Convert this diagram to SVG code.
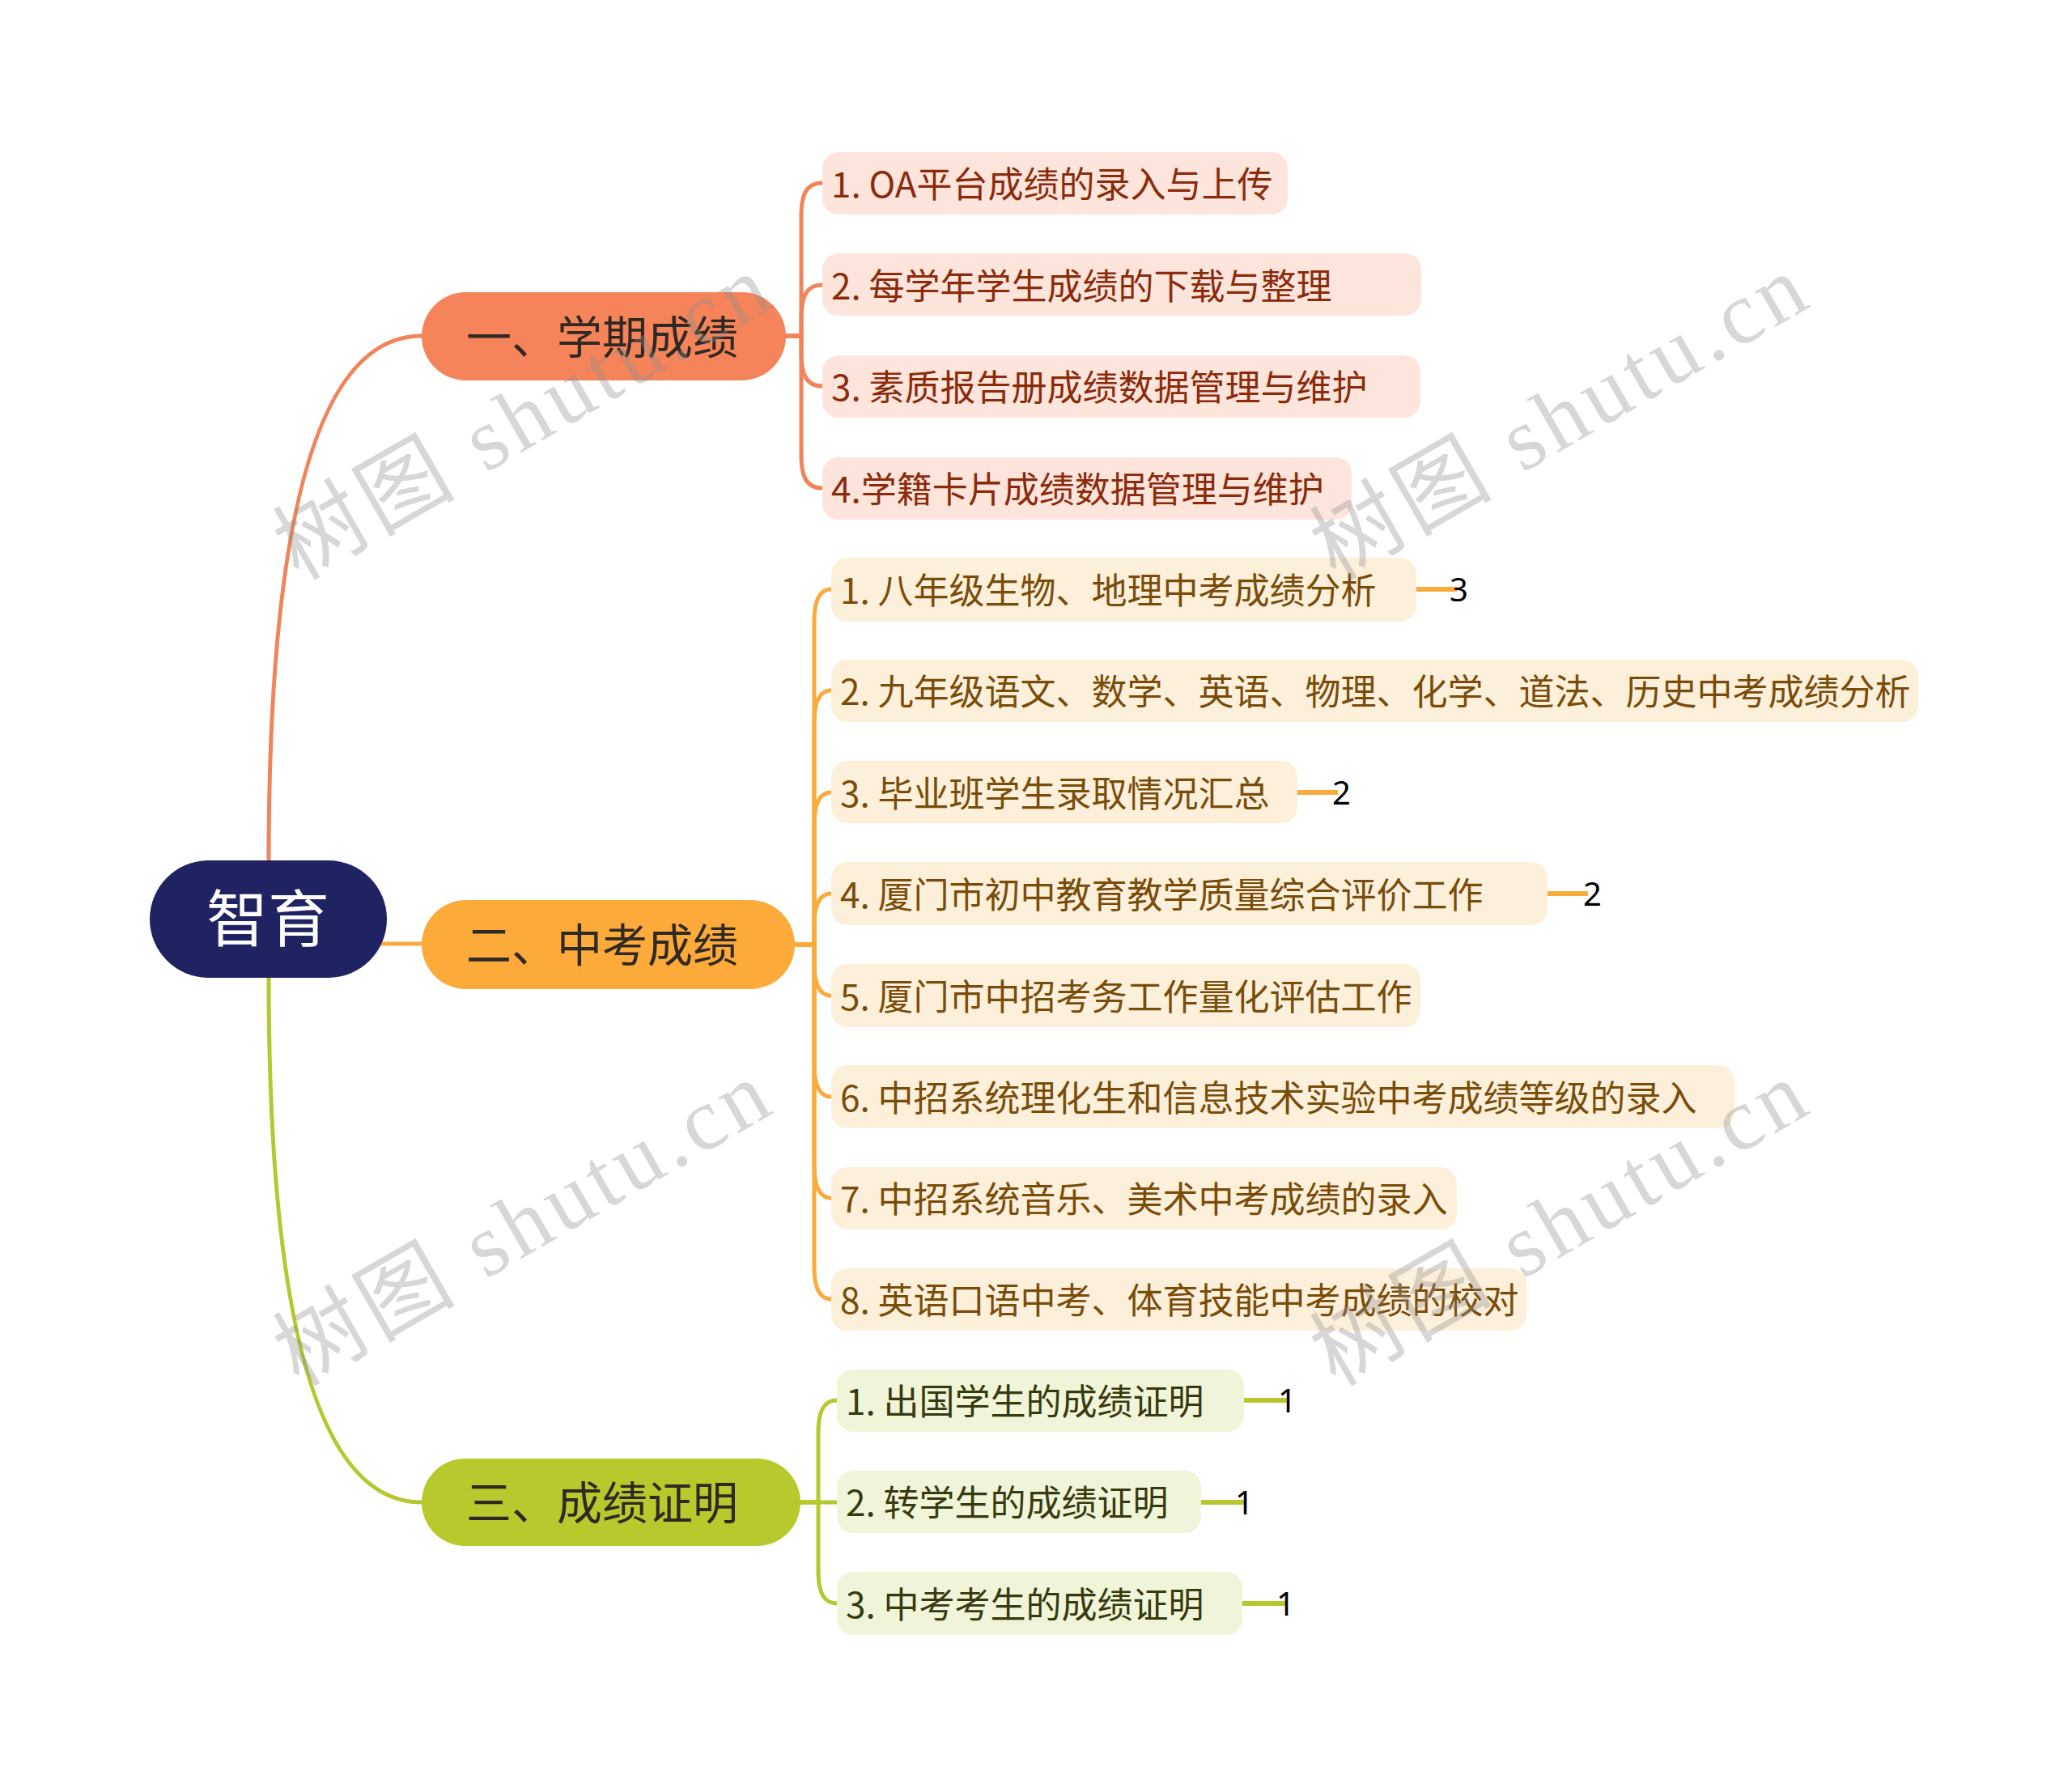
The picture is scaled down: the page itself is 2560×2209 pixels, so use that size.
<svg xmlns="http://www.w3.org/2000/svg" width="2560" height="2209" viewBox="0 0 2560 2209">
<style>
.t{font-family:"Noto Sans CJK SC","Noto Sans",sans-serif;dominant-baseline:central}
.rootbox{fill:#1f2361}
.roottxt{fill:#ffffff;font-size:76px}
.btxt{fill:#2f2823;font-size:56px}
.b1{fill:#f6845a}.b2{fill:#fcab3a}.b3{fill:#b7c92c}
.c1{fill:#fde5dc}.c1t{fill:#8b2b0c;font-size:44px}
.c2{fill:#fdf0da}.c2t{fill:#7a4c0a;font-size:44px}
.c3{fill:#f0f4d8}.c3t{fill:#363a0f;font-size:44px}
.e{fill:none;stroke-width:5;stroke-linecap:round;stroke-linejoin:round}
.e1{stroke:#f1845a}.e2{stroke:#f9ab3c}.e3{stroke:#b5c82e}
.cnt{fill:none;stroke-width:6}
.num{font-family:"Noto Sans",sans-serif;font-size:40px;fill:#000;dominant-baseline:central}
.wm{font-family:"Liberation Serif","Noto Sans CJK SC",serif;font-size:110px;fill:#8c8c8c;fill-opacity:0.35;text-anchor:middle;dominant-baseline:central}
</style>
<rect width="2560" height="2209" fill="#ffffff"/>
<g id="connectors">
<path class="e e1" d="M 332 1063 Q 332 415 521 415"/>
<path class="e e2" d="M 440 1166 H 521"/>
<path class="e e3" d="M 332 1208 Q 332 1856 521 1856"/>
<path class="e e1" d="M 971 415 H 990 V 266 C 990 241 996 226 1016 226"/>
<path class="e e1" d="M 971 415 H 990 V 392 C 990 367 996 352 1016 352"/>
<path class="e e1" d="M 971 415 H 990 V 437 C 990 462 996 477 1016 477"/>
<path class="e e1" d="M 971 415 H 990 V 563 C 990 588 996 603 1016 603"/>
<path class="e e2" d="M 982 1167 H 1006 V 768 C 1006 743 1012 728 1027 728"/>
<path class="e e2" d="M 982 1167 H 1006 V 893 C 1006 868 1012 853 1027 853"/>
<path class="e e2" d="M 982 1167 H 1006 V 1019 C 1006 994 1012 979 1027 979"/>
<path class="e e2" d="M 982 1167 H 1006 V 1144 C 1006 1119 1012 1104 1027 1104"/>
<path class="e e2" d="M 982 1167 H 1006 V 1190 C 1006 1215 1012 1230 1027 1230"/>
<path class="e e2" d="M 982 1167 H 1006 V 1315 C 1006 1340 1012 1355 1027 1355"/>
<path class="e e2" d="M 982 1167 H 1006 V 1440 C 1006 1465 1012 1480 1027 1480"/>
<path class="e e2" d="M 982 1167 H 1006 V 1565 C 1006 1590 1012 1605 1027 1605"/>
<path class="e e3" d="M 989 1856 H 1011 V 1770 C 1011 1745 1017 1730 1034 1730"/>
<path class="e e3" d="M 989 1856 H 1034"/>
<path class="e e3" d="M 989 1856 H 1011 V 1941 C 1011 1966 1017 1981 1034 1981"/>
<path class="cnt e2" d="M 1750 728 H 1800"/>
<path class="cnt e2" d="M 1603 979 H 1653"/>
<path class="cnt e2" d="M 1912 1104 H 1962"/>
<path class="cnt e3" d="M 1537 1730 H 1590"/>
<path class="cnt e3" d="M 1484 1856 H 1538"/>
<path class="cnt e3" d="M 1535 1981 H 1589"/>
</g>
<g id="root">
<rect class="rootbox" x="185" y="1063" width="293" height="145" rx="72.5"/>
<text class="t roottxt" x="331" y="1130" text-anchor="middle">智育</text>
</g>
<g id="branch1">
<rect class="b1" x="521" y="361" width="450" height="109" rx="54.5"/>
<text class="t btxt" x="576" y="412">一、学期成绩</text>
</g>
<g id="branch2">
<rect class="b2" x="521" y="1112" width="461" height="110" rx="55"/>
<text class="t btxt" x="576" y="1163">二、中考成绩</text>
</g>
<g id="branch3">
<rect class="b3" x="521" y="1802" width="468" height="108" rx="54"/>
<text class="t btxt" x="576" y="1852">三、成绩证明</text>
</g>
<g id="c1-1"><rect class="c1" x="1016" y="188" width="575" height="77" rx="20"/><text class="t c1t" x="1027" y="225">1. OA平台成绩的录入与上传</text></g>
<g id="c1-2"><rect class="c1" x="1016" y="313" width="740" height="77" rx="20"/><text class="t c1t" x="1027" y="351">2. 每学年学生成绩的下载与整理</text></g>
<g id="c1-3"><rect class="c1" x="1016" y="439" width="739" height="77" rx="20"/><text class="t c1t" x="1027" y="476">3. 素质报告册成绩数据管理与维护</text></g>
<g id="c1-4"><rect class="c1" x="1016" y="565" width="654" height="77" rx="20"/><text class="t c1t" x="1027" y="602">4.学籍卡片成绩数据管理与维护</text></g>
<g id="c2-1"><rect class="c2" x="1027" y="689" width="723" height="79" rx="20"/><text class="t c2t" x="1038" y="727">1. 八年级生物、地理中考成绩分析</text></g>
<g id="c2-2"><rect class="c2" x="1027" y="815" width="1343" height="77" rx="20"/><text class="t c2t" x="1038" y="852">2. 九年级语文、数学、英语、物理、化学、道法、历史中考成绩分析</text></g>
<g id="c2-3"><rect class="c2" x="1027" y="940" width="576" height="77" rx="20"/><text class="t c2t" x="1038" y="978">3. 毕业班学生录取情况汇总</text></g>
<g id="c2-4"><rect class="c2" x="1027" y="1065" width="885" height="78" rx="20"/><text class="t c2t" x="1038" y="1103">4. 厦门市初中教育教学质量综合评价工作</text></g>
<g id="c2-5"><rect class="c2" x="1027" y="1191" width="728" height="78" rx="20"/><text class="t c2t" x="1038" y="1229">5. 厦门市中招考务工作量化评估工作</text></g>
<g id="c2-6"><rect class="c2" x="1027" y="1316" width="1116" height="78" rx="20"/><text class="t c2t" x="1038" y="1354">6. 中招系统理化生和信息技术实验中考成绩等级的录入</text></g>
<g id="c2-7"><rect class="c2" x="1027" y="1442" width="773" height="77" rx="20"/><text class="t c2t" x="1038" y="1479">7. 中招系统音乐、美术中考成绩的录入</text></g>
<g id="c2-8"><rect class="c2" x="1027" y="1567" width="859" height="77" rx="20"/><text class="t c2t" x="1038" y="1604">8. 英语口语中考、体育技能中考成绩的校对</text></g>
<g id="c3-1"><rect class="c3" x="1034" y="1692" width="503" height="77" rx="20"/><text class="t c3t" x="1045" y="1729">1. 出国学生的成绩证明</text></g>
<g id="c3-2"><rect class="c3" x="1034" y="1817" width="450" height="77" rx="20"/><text class="t c3t" x="1045" y="1854">2. 转学生的成绩证明</text></g>
<g id="c3-3"><rect class="c3" x="1034" y="1942" width="501" height="78" rx="20"/><text class="t c3t" x="1045" y="1980">3. 中考考生的成绩证明</text></g>
<g id="counts">
<text class="num" x="1791" y="727">3</text>
<text class="num" x="1646" y="978">2</text>
<text class="num" x="1956" y="1103">2</text>
<text class="num" x="1579" y="1729">1</text>
<text class="num" x="1526" y="1855">1</text>
<text class="num" x="1577" y="1980">1</text>
</g>
<g id="watermarks">
<text class="wm" transform="translate(645 516) rotate(-30)" textLength="680" lengthAdjust="spacing">树图 shutu.cn</text>
<text class="wm" transform="translate(1926 516) rotate(-30)" textLength="680" lengthAdjust="spacing">树图 shutu.cn</text>
<text class="wm" transform="translate(645 1512) rotate(-30)" textLength="680" lengthAdjust="spacing">树图 shutu.cn</text>
<text class="wm" transform="translate(1926 1512) rotate(-30)" textLength="680" lengthAdjust="spacing">树图 shutu.cn</text>
</g>
</svg>
